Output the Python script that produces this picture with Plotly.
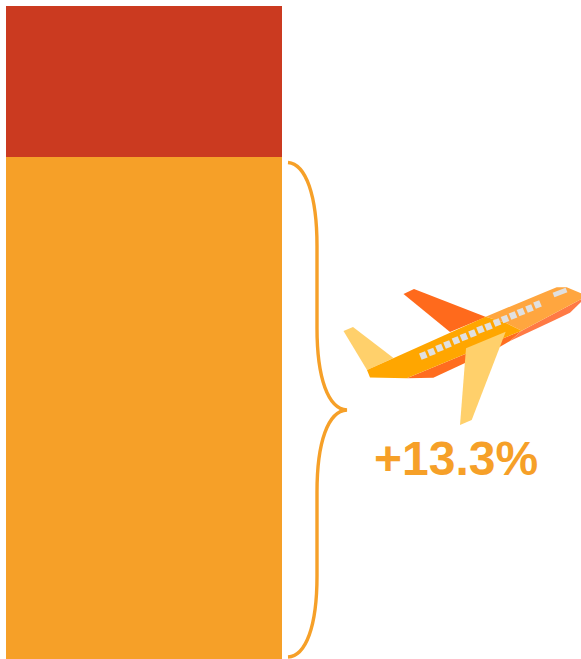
import plotly.graph_objects as go

# Chart values
categories = ["Total"]
base_values = [502]
added_values = [151]
change_label = "+13.3%"

WIDTH, HEIGHT = 581, 659
ORANGE = "#f6a028"
RED = "#cb3a20"


def flip(y):
    return HEIGHT - y


def poly(points):
    """Closed SVG path from (x, y-down) points."""
    head, *rest = points
    d = f"M{head[0]},{flip(head[1])} " + " ".join(f"L{x},{flip(y)}" for x, y in rest)
    return d + " Z"


def curve_path(cmds):
    out = []
    for c in cmds:
        op, *pts = c
        out.append(op + " ".join(f"{x},{flip(y)}" for x, y in pts))
    return " ".join(out)


def shape(path, fill="rgba(0,0,0,0)", line=None, width=0):
    return dict(
        type="path", path=path, xref="x", yref="y", layer="above",
        fillcolor=fill,
        line=dict(color=line or "rgba(0,0,0,0)", width=width),
    )


fig = go.Figure()
fig.add_bar(x=[143.75], y=base_values, width=276.5, marker=dict(color=ORANGE, line=dict(width=0)),
            name=categories[0], showlegend=False, hoverinfo="y")
fig.add_bar(x=[143.75], y=added_values, width=276.5, marker=dict(color=RED, line=dict(width=0)),
            name="Added", showlegend=False, hoverinfo="y")

shapes = []

# Curly brace spanning the lower segment
brace = curve_path([
    ("M", (288, 162.5)),
    ("C", (306, 164), (317, 196), (317, 246)),
    ("L", (317, 328)),
    ("C", (317, 378), (328, 409), (347, 410)),
    ("C", (328, 411), (317, 442), (317, 492)),
    ("L", (317, 576)),
    ("C", (317, 626), (306, 656), (288, 657)),
])
shapes.append(shape(brace, line=ORANGE, width=3.4))

# Airplane: rear wing, tail fin, fuselage layers, main wing
shapes.append(shape(poly([(403.5, 294), (414, 289), (486, 317), (450, 332)]), fill="#ff6a1c"))
shapes.append(shape(poly([(343.5, 331), (353, 327), (393.5, 358), (367, 370)]), fill="#ffd06b"))
shapes.append(shape(poly([(406.7, 378.3), (433.3, 377.7), (500, 346.7), (510, 341), (521.7, 330.7)]),
                    fill="#ff6d1f"))
shapes.append(shape(poly([(521.7, 330.7), (581, 299.3), (581, 302), (570, 312.7), (553.3, 320.7), (510, 341)]),
                    fill="#ff7a45"))
shapes.append(shape(poly([(485.7, 316.7), (543.3, 292.7), (556.7, 287.3), (566.7, 287.3), (581, 293.3),
                          (581, 299.3), (521.7, 330.7), (506.7, 323.3)]), fill="#ffa63f"))
shapes.append(shape(poly([(367, 370), (485.7, 316.7), (506.7, 323.3), (521.7, 330.7), (406.7, 378.3), (370, 377.5)]),
                    fill="#ffa600"))
shapes.append(shape(poly([(466, 348.3), (505.7, 331.7), (471.7, 420), (460, 425)]), fill="#ffd06b"))

# Cabin windows
window_x = [423.3, 431.5, 439.5, 447.5, 456, 464, 472.5, 480.5, 488.5, 497, 505, 513, 521, 529.5, 537.5]
window_y = [355.5, 352, 348, 344.5, 340.5, 337, 333.5, 329.5, 326.5, 322.5, 319, 315.5, 312, 308.5, 304.5]
for wx, wy in zip(window_x, window_y):
    shapes.append(shape(poly([(wx - 4.3, wy - 1.9), (wx + 1.7, wy - 4.3), (wx + 4.3, wy + 1.9), (wx - 1.7, wy + 4.3)]),
                        fill="#e0e0e0"))

# Cockpit glass
shapes.append(shape(f"M553.5,{flip(295)} L566.5,{flip(290)}", line="#e0e0e0", width=5))

fig.update_layout(
    width=WIDTH, height=HEIGHT,
    margin=dict(l=0, r=0, t=0, b=0),
    paper_bgcolor="white", plot_bgcolor="white",
    barmode="stack", bargap=0,
    shapes=shapes,
    xaxis=dict(range=[0, WIDTH], visible=False, fixedrange=True),
    yaxis=dict(range=[0, HEIGHT], visible=False, fixedrange=True),
    annotations=[dict(
        x=456, y=flip(458.5), xref="x", yref="y", text=f"<b>{change_label}</b>", showarrow=False,
        font=dict(family="Liberation Sans, Arial, sans-serif", size=48, color=ORANGE),
        xanchor="center", yanchor="middle",
    )],
)

fig.write_html("out.html", config=dict(displayModeBar=False))
